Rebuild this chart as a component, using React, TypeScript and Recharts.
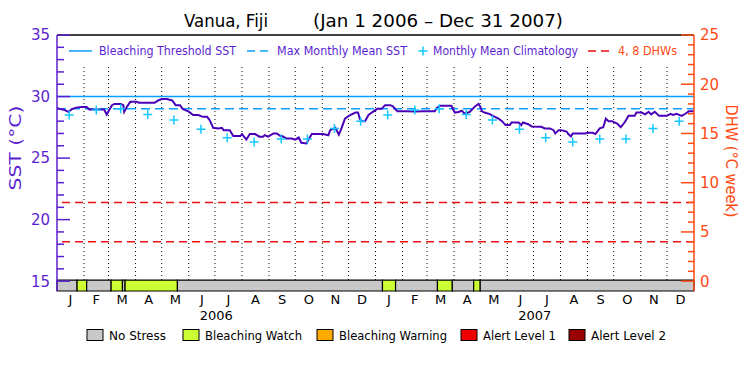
import React from 'react';
import {
  ComposedChart, Line, Scatter, XAxis, YAxis, ReferenceLine, ReferenceArea,
} from 'recharts';

// Layout of the plot box (pixels)
const PLOT_LEFT = 57;
const PLOT_RIGHT = 694;
const FONT = '"DejaVu Sans", "Liberation Sans", sans-serif';

const PURPLE = '#5b1fd1';
const SST_COLOR = '#4a00b8';
const BLUE = '#0aa0ff';
const CYAN = '#14c8ff';
const RED = '#ee1111';
const ORANGE = '#ff4a14';

// SST axis runs a bit below 15 to make room for the stress bar
const SST_DOMAIN: [number, number] = [14.2, 35];
const DHW_DOMAIN: [number, number] = [-1.0, 25];
const BAR_TOP = 15.09;
const DOTS_TOP = 32.56;

const MMM = 29.0;
const THRESHOLD = 30.0;
const DHW_LINES = [4, 8];

// day index from Jan 1 2006
const sstDays = [
  0, 4, 9, 13, 17, 22, 28, 34, 37, 54, 57, 59, 63, 66, 73, 76, 77, 80, 84, 91,
  94, 112, 116, 120, 126, 132, 136, 141, 144, 151, 156, 162, 167, 172, 175, 179, 185, 189, 191, 198,
  202, 210, 212, 217, 221, 227, 232, 236, 238, 242, 248, 252, 256, 258, 263, 269, 273, 277, 280, 286,
  288, 292, 305, 311, 313, 319, 323, 326, 330, 336, 342, 345, 347, 349, 353, 357, 362, 367,
  372, 376, 382, 385, 390, 400, 410, 420, 433, 435, 439, 452, 454, 456, 460, 464, 467, 473, 479, 483,
  485, 487, 490, 496, 500, 506, 510, 514, 519, 521, 529, 532, 534, 540, 544, 552, 555, 559, 565, 569,
  571, 575, 578, 584, 586, 589, 591, 605, 609, 614, 617, 622, 626, 629, 632, 636, 642, 646, 651, 655,
  662, 664, 670, 674, 678, 681, 685, 690, 699, 703, 706, 710, 716, 720, 724, 730,
];
const sstValues = [
  29.08, 28.98, 28.9, 28.76, 28.98, 29.1, 29.15, 29.15, 28.95, 28.95, 28.54, 28.8, 29.3, 29.4, 29.4, 29.3, 28.76, 29.15, 29.57, 29.57,
  29.5, 29.5, 29.68, 29.79, 29.79, 29.68, 29.3, 29.3, 29.0, 28.77, 28.49, 28.49, 28.35, 28.35, 28.08, 27.46, 27.4, 27.46, 27.27, 27.27,
  26.79, 26.79, 26.95, 26.5, 26.95, 26.95, 26.74, 26.74, 26.87, 26.74, 27.0, 27.0, 26.79, 26.79, 26.59, 26.59, 26.5, 26.67, 26.24, 26.19,
  26.46, 26.95, 26.95, 26.85, 27.27, 27.46, 26.9, 27.41, 28.2, 28.5, 28.7, 28.7, 28.2, 28.0, 28.0, 28.5, 28.76, 29.0,
  29.0, 29.3, 29.3, 29.2, 28.8, 28.8, 28.78, 28.8, 28.8, 29.05, 29.25, 29.25, 28.95, 28.7, 28.75, 28.85, 28.6, 28.75, 29.2, 29.4,
  29.2, 28.8, 28.7, 28.57, 28.4, 28.2, 28.0, 27.68, 27.68, 27.89, 27.89, 27.68, 27.89, 27.75, 27.57, 27.55, 27.54, 27.41, 27.41, 27.27,
  27.0, 27.27, 27.27, 27.15, 26.95, 26.76, 27.0, 27.0, 27.05, 27.05, 26.95, 27.41, 27.5, 28.2, 28.0, 28.0, 27.8, 27.5, 27.95, 28.43,
  28.43, 28.7, 28.7, 28.55, 28.76, 28.55, 28.76, 28.43, 28.43, 28.6, 28.5, 28.6, 28.43, 28.6, 28.8, 28.8,
];

const climDays = [
  14, 45, 73, 104, 134, 165, 195, 226, 257, 287, 318, 348,
  379, 410, 438, 469, 499, 530, 560, 591, 622, 652, 683, 713,
];
const climValues = [
  28.5, 28.9, 29.0, 28.55, 28.1, 27.35, 26.65, 26.3, 26.55, 26.55, 27.4, 28.0,
  28.5, 28.9, 29.0, 28.55, 28.1, 27.35, 26.65, 26.3, 26.55, 26.55, 27.4, 28.0,
];

const monthBoundaries = [
  31, 59, 90, 120, 151, 181, 212, 243, 273, 304, 334, 365,
  396, 424, 455, 485, 516, 546, 577, 608, 638, 669, 699,
];
const monthMids = [
  15.5, 45, 74.5, 105, 135.5, 166, 196.5, 227.5, 258, 288.5, 319, 349.5,
  380.5, 410, 439.5, 470, 500.5, 531, 561.5, 592.5, 623, 653.5, 684, 714.5,
];
const monthLetters = [
  'J', 'F', 'M', 'A', 'M', 'J', 'J', 'A', 'S', 'O', 'N', 'D',
  'J', 'F', 'M', 'A', 'M', 'J', 'J', 'A', 'S', 'O', 'N', 'D',
];
const yearMids = [182.5, 547.5];
const yearLabels = ['2006', '2007'];

const sstTicks = [15, 16, 17, 18, 19, 20, 21, 22, 23, 24, 25, 26, 27, 28, 29, 30, 31, 32, 33, 34, 35];
const dhwTicks = [0, 1, 2, 3, 4, 5, 6, 7, 8, 9, 10, 11, 12, 13, 14, 15, 16, 17, 18, 19, 20, 21, 22, 23, 24, 25];

// stress status periods (0 = no stress, 1 = bleaching watch)
const statusStart = [0, 23, 34, 62, 75, 78, 138, 373, 388, 436, 453, 477.5, 485];
const statusEnd = [23, 34, 62, 75, 78, 138, 373, 388, 436, 453, 477.5, 485, 730];
const statusLevel = [0, 1, 0, 1, 0, 1, 0, 1, 0, 1, 0, 1, 0];

const stressNames = ['No Stress', 'Bleaching Watch', 'Bleaching Warning', 'Alert Level 1', 'Alert Level 2'];
const stressColors = ['#c8c8c8', '#ccff33', '#ffaa00', '#ee0000', '#990000'];

const sstData = sstDays.map((day, i) => ({ day, sst: sstValues[i] }));
const climData = climDays.map((day, i) => ({ day, clim: climValues[i] }));

const SstTick = (props: any) => {
  const { y, payload } = props;
  const major = payload.value % 5 === 0;
  return (
    <g>
      <line x1={PLOT_LEFT} x2={PLOT_LEFT + (major ? 13 : 7)} y1={y} y2={y} stroke={PURPLE} strokeWidth={1.5} />
      {major && (
        <text x={PLOT_LEFT - 7} y={y} dy="0.36em" textAnchor="end" fill={PURPLE} fontSize={15} fontFamily={FONT}>
          {payload.value}
        </text>
      )}
    </g>
  );
};

const DhwTick = (props: any) => {
  const { y, payload } = props;
  const major = payload.value % 5 === 0;
  return (
    <g>
      <line x1={PLOT_RIGHT - (major ? 13 : 6)} x2={PLOT_RIGHT} y1={y} y2={y} stroke={ORANGE} strokeWidth={1.5} />
      {major && (
        <text x={PLOT_RIGHT + 6} y={y} dy="0.36em" textAnchor="start" fill={ORANGE} fontSize={15} fontFamily={FONT}>
          {payload.value}
        </text>
      )}
    </g>
  );
};

const MonthTick = (props: any) => (
  <text x={props.x} y={props.y} dy="0.36em" textAnchor="middle" fill="#000" fontSize={13} fontFamily={FONT}>
    {monthLetters[props.index]}
  </text>
);

const YearTick = (props: any) => (
  <text x={props.x} y={props.y} dy="0.36em" textAnchor="middle" fill="#000" fontSize={13} fontFamily={FONT}>
    {yearLabels[props.index]}
  </text>
);

const PlusShape = (props: any) => {
  const { cx, cy } = props;
  return (
    <g>
      <line x1={cx - 4.5} x2={cx + 4.5} y1={cy} y2={cy} stroke={CYAN} strokeWidth={1.5} />
      <line x1={cx} x2={cx} y1={cy - 4.5} y2={cy + 4.5} stroke={CYAN} strokeWidth={1.5} />
    </g>
  );
};

const Overlay = () => (
  <svg width={750} height={375} style={{ position: 'absolute', left: 0, top: 0, pointerEvents: 'none' }}>
    <text x={184} y={27} fontSize={17} fontFamily={FONT} fill="#000" textLength={84} lengthAdjust="spacingAndGlyphs">Vanua, Fiji</text>
    <text x={313} y={27} fontSize={17} fontFamily={FONT} fill="#000" textLength={250} lengthAdjust="spacingAndGlyphs">(Jan 1 2006 – Dec 31 2007)</text>

    {/* legend inside the plot */}
    <line x1={69} x2={92} y1={51} y2={51} stroke={BLUE} strokeWidth={1.5} />
    <text x={99} y={55} fontSize={12} fontFamily={FONT} fill={PURPLE} textLength={137} lengthAdjust="spacingAndGlyphs">Bleaching Threshold SST</text>
    <line x1={247} x2={268} y1={51} y2={51} stroke={BLUE} strokeWidth={1.5} strokeDasharray="8 5" />
    <text x={277} y={55} fontSize={12} fontFamily={FONT} fill={PURPLE} textLength={130} lengthAdjust="spacingAndGlyphs">Max Monthly Mean SST</text>
    <line x1={418.5} x2={427.5} y1={51} y2={51} stroke={CYAN} strokeWidth={1.5} />
    <line x1={423} x2={423} y1={46.5} y2={55.5} stroke={CYAN} strokeWidth={1.5} />
    <text x={433} y={55} fontSize={12} fontFamily={FONT} fill={PURPLE} textLength={145} lengthAdjust="spacingAndGlyphs">Monthly Mean Climatology</text>
    <line x1={588} x2={609} y1={51} y2={51} stroke={RED} strokeWidth={1.5} strokeDasharray="8 5" />
    <text x={618} y={55} fontSize={12} fontFamily={FONT} fill={ORANGE} textLength={59} lengthAdjust="spacingAndGlyphs">4, 8 DHWs</text>

    {/* axis titles */}
    <text transform="translate(21,148) rotate(-90)" textAnchor="middle" fontSize={15} fontFamily={FONT} fill={PURPLE} textLength={85} lengthAdjust="spacingAndGlyphs">SST (°C)</text>
    <text transform="translate(726,161) rotate(90)" textAnchor="middle" fontSize={15} fontFamily={FONT} fill={ORANGE} textLength={113} lengthAdjust="spacingAndGlyphs">DHW (°C week)</text>

    {/* stress legend */}
    {stressNames.map((name, i) => {
      const boxX = [87, 183, 317, 461, 569][i];
      const widths = [57, 97, 108, 73, 75];
      return (
        <g key={name}>
          <rect x={boxX} y={329.5} width={16} height={11} fill={stressColors[i]} stroke="#000" strokeWidth={1} />
          <text x={boxX + 22} y={340} fontSize={13} fontFamily={FONT} fill="#000" textLength={widths[i]} lengthAdjust="spacingAndGlyphs">{name}</text>
        </g>
      );
    })}
  </svg>
);

export default function App() {
  return (
    <div style={{ position: 'fixed', left: 0, top: 0, width: 750, height: 375, background: '#fff' }}>
      <ComposedChart
        width={750}
        height={375}
        data={sstData}
        margin={{ top: 35, right: 0, bottom: 50, left: 0 }}
      >
        <XAxis
          xAxisId="day"
          dataKey="day"
          type="number"
          domain={[0, 730]}
          ticks={monthMids}
          interval={0}
          height={16}
          axisLine={false}
          tickLine={false}
          tick={MonthTick}
        />
        <XAxis
          xAxisId="year"
          dataKey="day"
          type="number"
          domain={[0, 730]}
          ticks={yearMids}
          interval={0}
          height={18}
          axisLine={false}
          tickLine={false}
          tick={YearTick}
        />
        <YAxis
          yAxisId="sst"
          type="number"
          domain={SST_DOMAIN}
          ticks={sstTicks}
          interval={0}
          width={PLOT_LEFT}
          allowDataOverflow
          axisLine={{ stroke: PURPLE, strokeWidth: 1.5 }}
          tickLine={false}
          tick={SstTick}
        />
        <YAxis
          yAxisId="dhw"
          orientation="right"
          type="number"
          domain={DHW_DOMAIN}
          ticks={dhwTicks}
          interval={0}
          width={750 - PLOT_RIGHT}
          allowDataOverflow
          axisLine={{ stroke: ORANGE, strokeWidth: 1.5 }}
          tickLine={false}
          tick={DhwTick}
        />

        {monthBoundaries.map((d) => (
          <ReferenceLine
            key={`m${d}`}
            xAxisId="day"
            yAxisId="sst"
            segment={[{ x: d, y: BAR_TOP }, { x: d, y: DOTS_TOP }]}
            stroke="#000"
            strokeWidth={1}
            strokeDasharray="1 3"
          />
        ))}

        <ReferenceLine xAxisId="day" yAxisId="sst" y={35} stroke="#000" strokeWidth={1.5} />
        <ReferenceLine xAxisId="day" yAxisId="sst" y={THRESHOLD} stroke={BLUE} strokeWidth={1.5} />
        <ReferenceLine xAxisId="day" yAxisId="sst" y={MMM} stroke={BLUE} strokeWidth={1.5} strokeDasharray="9 5" />
        {DHW_LINES.map((v) => (
          <ReferenceLine key={`d${v}`} xAxisId="day" yAxisId="dhw" y={v} stroke={RED} strokeWidth={1.5} strokeDasharray="8 5" />
        ))}

        {statusStart.map((s, i) => (
          <ReferenceArea
            key={`s${i}`}
            xAxisId="day"
            yAxisId="sst"
            x1={s}
            x2={statusEnd[i]}
            y1={SST_DOMAIN[0]}
            y2={BAR_TOP}
            fill={stressColors[statusLevel[i]]}
            fillOpacity={1}
            stroke="#000"
            strokeWidth={1.2}
          />
        ))}

        <Scatter
          xAxisId="day"
          yAxisId="sst"
          data={climData}
          dataKey="clim"
          shape={PlusShape}
          isAnimationActive={false}
        />
        <Line
          xAxisId="day"
          yAxisId="sst"
          dataKey="sst"
          type="linear"
          stroke={SST_COLOR}
          strokeWidth={2}
          dot={false}
          isAnimationActive={false}
        />
      </ComposedChart>
      <Overlay />
    </div>
  );
}
